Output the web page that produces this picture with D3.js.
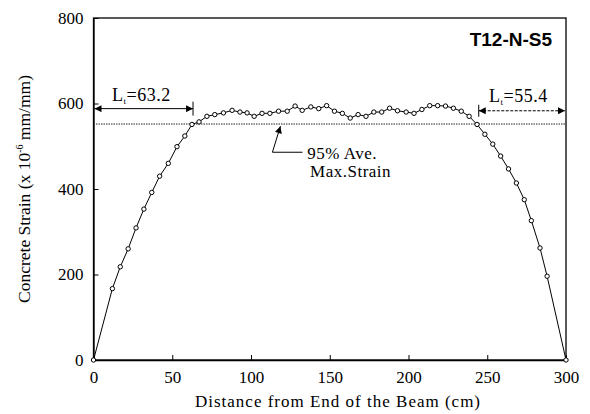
<!DOCTYPE html>
<html>
<head>
<meta charset="utf-8">
<script src="https://cdn.jsdelivr.net/npm/d3@7/dist/d3.min.js"></script>
<style>
  html, body { margin: 0; padding: 0; background: #fff; }
  svg { display: block; }
  text { font-family: "Liberation Serif", "Times New Roman", serif; fill: #000; }
</style>
</head>
<body>
<svg id="chart" width="590" height="414"></svg>
<script>
// ---- data ----
const distance = [0,12,17,22,27,32,37,42,47.5,53,58,62.5,67,72,77,82.5,88,93,97.5,102,107,112,117.5,123,128,132.5,138,143,148,153,158,163,168,173,178,183,188,193,198.5,203.5,208.5,213.5,218.5,223.5,228.5,233.5,238.5,243.5,248.5,253.5,258.5,263.5,268.5,273.5,278,283.5,288,300];
const strain = [0,167,218,260,309,353,392,430,460,499,524,551,557,570,574,578,584,580,578,570,577,577,582,582,594,584,592,588,595,582,577,566,574,570,580,580,589,583,580,577,586,595,595,594,589,582,570,551,528,505,477,447,414,375,326,262,196,0];
const xTicks = [0,50,100,150,200,250,300];
const yTicks = [0,200,400,600,800];
const avgLine95 = 552;
const leftLt = 63.2;
const rightLt = 55.4;
const specimen = "T12-N-S5";

// ---- layout ----
const svg = d3.select("#chart");
const m = {left: 93.5, right: 566, top: 18, bottom: 360};
const x = d3.scaleLinear().domain([0,300]).range([m.left, m.right]);
const y = d3.scaleLinear().domain([0,800]).range([m.bottom, m.top]);

const defs = svg.append("defs");
function marker(id, orient) {
  defs.append("marker").attr("id", id)
    .attr("viewBox", "0 0 10 10").attr("refX", 10).attr("refY", 5)
    .attr("markerWidth", 10).attr("markerHeight", 7).attr("markerUnits", "userSpaceOnUse")
    .attr("orient", orient)
    .append("path").attr("d", "M0,0 L10,5 L0,10 Z").attr("fill", "#000");
}
marker("arrow", "auto");
marker("arrowStart", "auto-start-reverse");

// frame
svg.append("rect").attr("x", m.left).attr("y", m.top)
  .attr("width", m.right - m.left).attr("height", m.bottom - m.top)
  .attr("fill", "none").attr("stroke", "#000").attr("stroke-width", 1.3);

// axes
const xAxis = d3.axisBottom(x).tickValues(xTicks).tickSizeInner(-5).tickSizeOuter(0).tickPadding(11);
const gx = svg.append("g").attr("transform", `translate(0,${m.bottom})`).call(xAxis);
const yAxis = d3.axisLeft(y).tickValues(yTicks).tickSizeInner(-5).tickSizeOuter(0).tickPadding(10);
const gy = svg.append("g").attr("transform", `translate(${m.left},0)`).call(yAxis);
[gx, gy].forEach(g => {
  g.select(".domain").attr("stroke", "#000").attr("stroke-width", 1.3);
  g.selectAll(".tick line").attr("stroke", "#000");
  g.selectAll(".tick text").attr("font-family", "Liberation Serif").attr("font-size", 17).attr("fill", "#000");
});

// axis titles
svg.append("text").attr("x", 338).attr("y", 407)
  .attr("text-anchor", "middle").attr("font-size", 17).attr("letter-spacing", 1)
  .text("Distance from End of the Beam (cm)");
const yt = svg.append("text").attr("transform", `translate(30,${(m.top + m.bottom) / 2}) rotate(-90)`)
  .attr("text-anchor", "middle").attr("font-size", 17.5);
yt.append("tspan").text("Concrete Strain (x 10");
yt.append("tspan").attr("dy", -7).attr("font-size", 10).text("-6");
yt.append("tspan").attr("dy", 7).text(" mm/mm)");

// 95% line
svg.append("line").attr("x1", x(0)).attr("x2", x(300))
  .attr("y1", y(avgLine95)).attr("y2", y(avgLine95))
  .attr("stroke", "#222").attr("stroke-width", 1).attr("stroke-dasharray", "1.5,1");

// data line
const pts = distance.map((d, i) => [d, strain[i]]);
svg.append("path").datum(pts)
  .attr("d", d3.line().x(d => x(d[0])).y(d => y(d[1])))
  .attr("fill", "none").attr("stroke", "#000").attr("stroke-width", 1);
svg.selectAll("circle.pt").data(pts).enter().append("circle")
  .attr("class", "pt").attr("cx", d => x(d[0])).attr("cy", d => y(d[1])).attr("r", 2.2)
  .attr("fill", "#fff").attr("stroke", "#000").attr("stroke-width", 1);

// title
svg.append("text").attr("x", 552).attr("y", 46).attr("text-anchor", "end")
  .attr("font-weight", "bold").attr("font-size", 19)
  .style("font-family", "'Liberation Sans', Arial, sans-serif")
  .text(specimen);

// Lt arrows
const arrowY = 588;
svg.append("line").attr("x1", x(0) + 1).attr("x2", x(leftLt))
  .attr("y1", y(arrowY)).attr("y2", y(arrowY))
  .attr("stroke", "#000").attr("stroke-width", 1)
  .attr("marker-start", "url(#arrowStart)").attr("marker-end", "url(#arrow)");
svg.append("line").attr("x1", x(leftLt)).attr("x2", x(leftLt))
  .attr("y1", y(arrowY) - 7).attr("y2", y(arrowY) + 7).attr("stroke", "#000");
const lt1 = svg.append("text").attr("x", 112).attr("y", 101).attr("font-size", 18).attr("letter-spacing", 0.5);
lt1.append("tspan").text("L");
lt1.append("tspan").attr("dy", 3).attr("font-size", 9).text("t");
lt1.append("tspan").attr("dy", -3).text("=63.2");

const rArrowY = 583;
svg.append("line").attr("x1", x(300 - rightLt)).attr("x2", x(300) - 1)
  .attr("y1", y(rArrowY)).attr("y2", y(rArrowY))
  .attr("stroke", "#000").attr("stroke-width", 1).attr("stroke-dasharray", "3,1.5")
  .attr("marker-start", "url(#arrowStart)").attr("marker-end", "url(#arrow)");
svg.append("line").attr("x1", x(300 - rightLt)).attr("x2", x(300 - rightLt))
  .attr("y1", y(rArrowY) - 6).attr("y2", y(rArrowY) + 6).attr("stroke", "#000");
const lt2 = svg.append("text").attr("x", 489).attr("y", 102).attr("font-size", 18).attr("letter-spacing", 0.5);
lt2.append("tspan").text("L");
lt2.append("tspan").attr("dy", 3).attr("font-size", 9).text("t");
lt2.append("tspan").attr("dy", -3).text("=55.4");

// 95% annotation leader
svg.append("polyline")
  .attr("points", [[x(132.7), y(486)], [x(113.6), y(486)], [x(118.7), y(547)]].map(p => p.join(",")).join(" "))
  .attr("fill", "none").attr("stroke", "#000").attr("stroke-width", 1)
  .attr("marker-end", "url(#arrow)");
svg.append("text").attr("x", x(135.7)).attr("y", y(470)).attr("font-size", 17).attr("letter-spacing", 0.5).text("95% Ave.");
svg.append("text").attr("x", x(137.5)).attr("y", y(428)).attr("font-size", 17).attr("letter-spacing", 0.5).text("Max.Strain");
</script>
</body>
</html>
